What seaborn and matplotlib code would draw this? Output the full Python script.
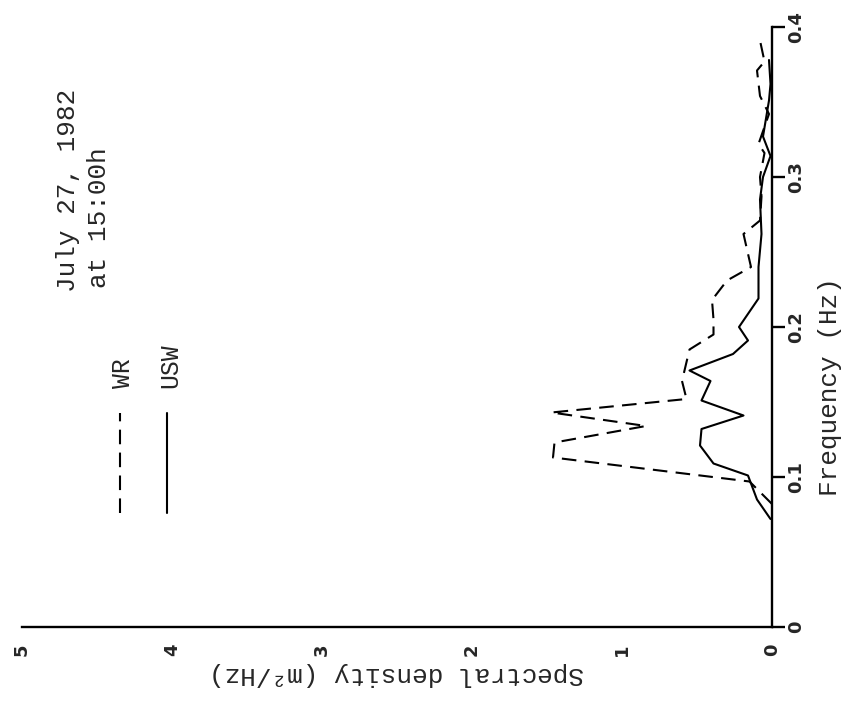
import matplotlib
matplotlib.use("Agg")
import matplotlib.pyplot as plt
from matplotlib.font_manager import FontProperties
import seaborn as sns
import pandas as pd

# ---- data (frequency in Hz, spectral density in m^2/Hz) ----
wr_freq = [0.082, 0.097, 0.113, 0.123, 0.134, 0.143, 0.152, 0.164, 0.185, 0.195,
           0.205, 0.218, 0.231, 0.240, 0.262, 0.271, 0.287, 0.300, 0.316, 0.322,
           0.342, 0.354, 0.371, 0.377, 0.391]
wr_dens = [0.00, 0.15, 1.46, 1.45, 0.84, 1.47, 0.57, 0.60, 0.55, 0.39,
           0.39, 0.40, 0.30, 0.14, 0.19, 0.08, 0.07, 0.08, 0.05, 0.09,
           0.02, 0.08, 0.10, 0.05, 0.08]

usw_freq = [0.072, 0.085, 0.101, 0.109, 0.121, 0.132, 0.141, 0.151, 0.164, 0.171,
            0.182, 0.191, 0.200, 0.219, 0.240, 0.262, 0.285, 0.300, 0.314, 0.327,
            0.351, 0.362, 0.378]
usw_dens = [0.01, 0.10, 0.16, 0.39, 0.48, 0.47, 0.19, 0.47, 0.41, 0.55,
            0.26, 0.16, 0.22, 0.09, 0.09, 0.07, 0.08, 0.06, 0.01, 0.06,
            0.02, 0.01, 0.02]

dens_ticks = [0, 1, 2, 3, 4, 5]
dens_labels = ["0", "1", "2", "3", "4", "5"]
freq_ticks = [0.0, 0.1, 0.2, 0.3, 0.4]
freq_labels = ["0", "0.1", "0.2", "0.3", "0.4"]

series_names = ["WR", "USW"]
title_lines = ["July 27, 1982", "at 15:00h"]
xlabel = "Spectral density (m²/Hz)"
ylabel = "Frequency (Hz)"

# ---- style ----
sns.set_style("white")
mono = ["Liberation Mono", "DejaVu Sans Mono"]
plt.rcParams["font.family"] = mono

fig = plt.figure(figsize=(8.53, 7.01), dpi=100)
ax = fig.add_axes([22 / 853, 74 / 701, 750 / 853, 600 / 701])

wr_df = pd.DataFrame({"freq": wr_freq, "dens": wr_dens})
usw_df = pd.DataFrame({"freq": usw_freq, "dens": usw_dens})

lw = 1.5
dash = (7, 4)
sns.lineplot(data=wr_df, x="dens", y="freq", orient="y", sort=False, estimator=None,
             color="black", lw=lw, ax=ax)
ax.lines[-1].set_dashes(dash)
sns.lineplot(data=usw_df, x="dens", y="freq", orient="y", sort=False, estimator=None,
             color="black", lw=lw, ax=ax)
for ln in ax.lines:
    ln.set_clip_on(False)

ax.set_xlim(5, 0)
ax.set_ylim(0, 0.4)

for s in ["left", "top"]:
    ax.spines[s].set_visible(False)
for s in ["bottom", "right"]:
    ax.spines[s].set_linewidth(1.7)
    ax.spines[s].set_color("black")

ax.yaxis.tick_right()
ax.set_xticks(dens_ticks)
ax.set_xticklabels(dens_labels)
ax.set_yticks(freq_ticks)
ax.set_yticklabels(freq_labels)
tick_fp = FontProperties(family=["DejaVu Sans"], weight="bold", size=13)
for t in ax.get_xticklabels() + ax.get_yticklabels():
    t.set_fontproperties(tick_fp)
    t.set_rotation(90)
ax.tick_params(axis="both", direction="out", length=9, width=1.7, color="black")
ax.tick_params(axis="x", pad=3)
ax.tick_params(axis="y", pad=2)
for t in ax.get_yticklabels():
    t.set_verticalalignment("center")

txt_size = 18.8
ax.set_xlabel(xlabel, rotation=180, fontsize=txt_size)
ax.xaxis.set_label_coords(0.5, -0.058)
ax.yaxis.set_label_position("right")
ax.set_ylabel(ylabel, rotation=90, fontsize=txt_size)
ax.yaxis.set_label_coords(1.062, 0.40)

# title (rotated like the rest of the figure)
ax.text(4.69, 0.223, title_lines[0], rotation=90, ha="center", va="bottom", fontsize=txt_size)
ax.text(4.49, 0.226, title_lines[1], rotation=90, ha="center", va="bottom", fontsize=txt_size)

# legend (drawn manually because the whole figure is rotated)
leg_x = [0.1307, 0.1933]
leg_y0, leg_y1 = 0.190, 0.357
leg_text_y = 0.398
styles = [dash, None]
for xa, name, ds in zip(leg_x, series_names, styles):
    ln, = ax.plot([xa, xa], [leg_y0, leg_y1], color="black", lw=lw, transform=ax.transAxes)
    if ds:
        ln.set_dashes(ds)
    ax.text(xa + 0.004, leg_text_y, name, rotation=90, ha="center", va="bottom",
            fontsize=txt_size - 1, transform=ax.transAxes)

fig.savefig("out.png", dpi=100)
